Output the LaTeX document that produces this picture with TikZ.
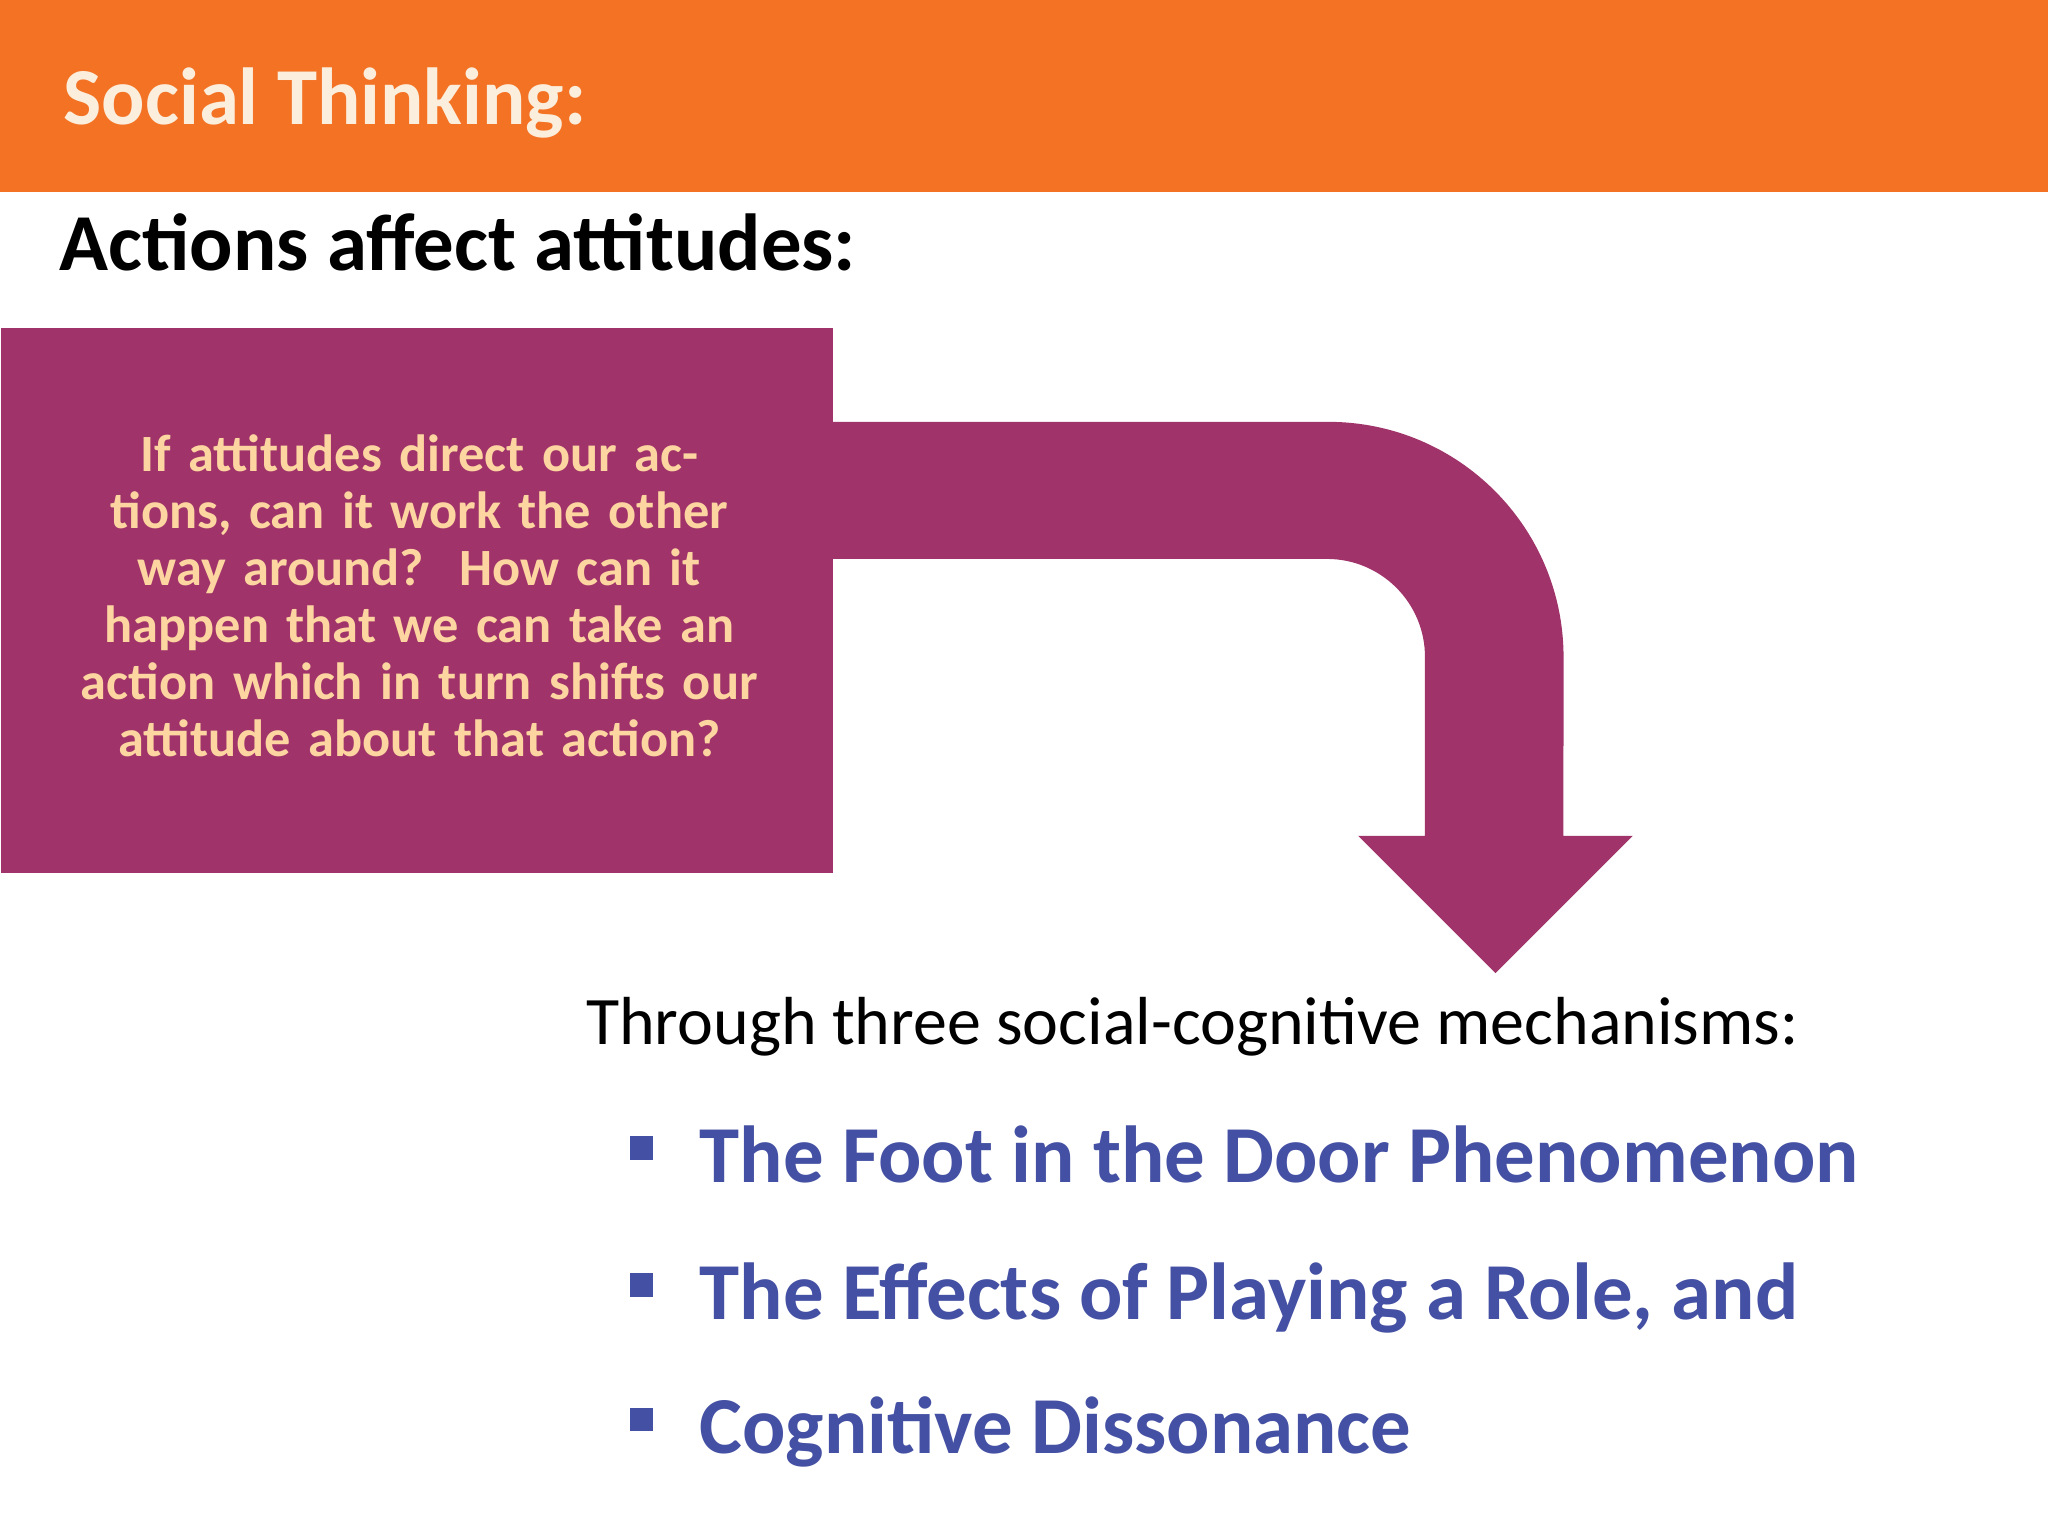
\documentclass[tikz,border=0pt]{standalone}
\usepackage{fontspec}
\setmainfont{Carlito}
\definecolor{orng}{HTML}{F37224}
\definecolor{plum}{HTML}{A0336A}
\definecolor{cream}{HTML}{FDD5A0}
\definecolor{ttl}{HTML}{FCEEDC}
\definecolor{blu}{HTML}{4450A3}
\begin{document}
\begin{tikzpicture}[x=0.01cm,y=0.01cm,
  bul/.style={fill=blu,minimum size=0.18cm,inner sep=0pt},
  bultext/.style={anchor=base west,inner sep=0pt,text=blu,font=\fontsize{17.6}{20}\selectfont\bfseries}]
\useasboundingbox (0,0) rectangle (1568,1176);
\fill[white] (0,0) rectangle (1568,1176);
\fill[orng] (0,1029) rectangle (1568,1176);
\node[anchor=base west,inner sep=0pt,text=ttl,font=\fontsize{17.6}{20}\selectfont\bfseries] (title) at (48,1081) {Social Thinking:};
\node[anchor=base west,inner sep=0pt,font=\fontsize{17.6}{20}\selectfont\bfseries] (sub) at (45,969) {Actions affect attitudes:};
\fill[plum] (637,853) -- (1017,853) arc[start angle=90,end angle=0,radius=1.8cm] -- (1197,536) -- (1250,536) -- (1145,431) -- (1040,536) -- (1091,536) -- (1091,673) arc[start angle=0,end angle=90,radius=0.75cm] -- (637,748) -- cycle;
\node[fill=plum,minimum width=6.37cm,minimum height=4.17cm,anchor=south west,inner sep=0pt] (box) at (0,507) {};
\node[text width=5.7cm,align=center,text=cream,inner sep=0pt,font=\fontsize{11.4}{12.4}\selectfont\bfseries] (q) at (321,720) {If attitudes direct our actions, can it work the other way around?\ \ How can it happen that we can take an action which in turn shifts our attitude about that action?};
\node[anchor=base west,inner sep=0pt,font=\fontsize{14.8}{18}\selectfont] (thr) at (448,376) {Through three social-cognitive mechanisms:};
\node[bul] (b1) at (491,297) {};
\node[bultext] (t1) at (535,271) {The Foot in the Door Phenomenon};
\node[bul] (b2) at (491,192) {};
\node[bultext] (t2) at (535,166) {The Effects of Playing a Role, and};
\node[bul] (b3) at (491,89) {};
\node[bultext] (t3) at (535,63) {Cognitive Dissonance};
\end{tikzpicture}
\end{document}
